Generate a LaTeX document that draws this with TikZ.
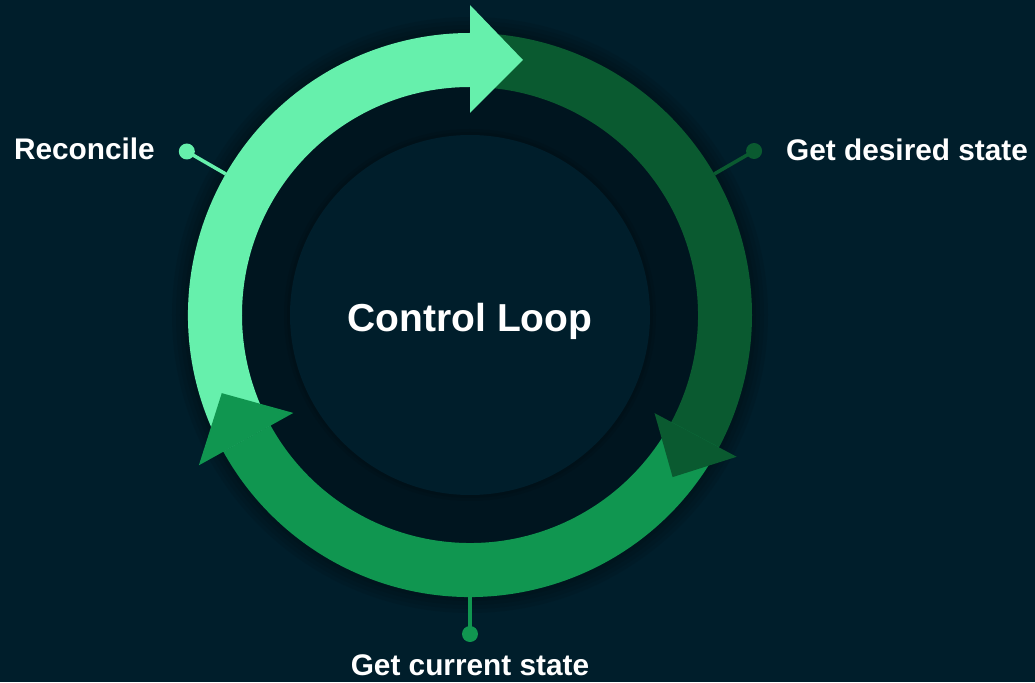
\documentclass[tikz,border=0pt]{standalone}
\usepackage{fontspec}
\setmainfont{Liberation Sans}
\usetikzlibrary{calc}
\definecolor{bg}{HTML}{001E2B}
\definecolor{innerdark}{HTML}{00151F}
\definecolor{lightg}{HTML}{66F0AC}
\definecolor{darkg}{HTML}{0A5A30}
\definecolor{midg}{HTML}{109650}
\tikzset{
  lbl/.style={text=white,font=\fontsize{29.8}{34}\selectfont\bfseries,inner sep=0pt},
  dotnode/.style={circle,inner sep=0pt,minimum size=16pt},
  leader/.style={line width=3.5pt},
}
\newcommand{\ringbody}[3]{% color, start angle, end angle
  \fill[#1] (#2:282) arc[start angle=#2,end angle=#3,radius=282] -- (#3:228) arc[start angle=#3,end angle=#2,radius=228] -- cycle;}
\newcommand{\ringhead}[5]{% color, base angle, tip length, inner r, outer r
  \fill[#1] (#2:#4) -- (#2:#5) -- ($(#2:255)+(#2-90:#3)$) -- cycle;}
\begin{document}
\begin{tikzpicture}[x=1pt,y=1pt]
\fill[bg] (-470,-367) rectangle (565,315);
\useasboundingbox (-470,-367) rectangle (565,315);
% soft shadow around ring
\foreach \r in {298,294,290,286}{\fill[black,opacity=0.07] (0,0) circle (\r);}
\fill[innerdark] (0,0) circle (228);
\foreach \r in {186,183}{\fill[black,opacity=0.08] (0,0) circle (\r);}
\fill[bg] (0,0) circle (180);
% ring bodies
\ringbody{lightg}{209}{90}
\ringbody{darkg}{90}{-28}
\ringbody{midg}{-28}{-151}
% heads
\ringhead{lightg}{90}{53}{202}{310}
\ringhead{darkg}{-28}{48}{209}{302}
\ringhead{midg}{209}{52}{202}{310}
% centre label
\node[text=white,font=\fontsize{39}{46}\selectfont\bfseries,anchor=base,inner sep=0pt] (title) at (0,-17) {Control Loop};
% leaders
\coordinate (a1) at (150:282);
\node[dotnode,fill=lightg] (d1) at (150:327) {};
\draw[leader,lightg] (a1) -- (d1.center);
\coordinate (a2) at (30:282);
\node[dotnode,fill=darkg] (d2) at (30:328) {};
\draw[leader,darkg] (a2) -- (d2.center);
\coordinate (a3) at (270:282);
\node[dotnode,fill=midg] (d3) at (270:319) {};
\draw[leader,midg] (a3) -- (d3.center);
% labels
\node[lbl,anchor=base east] (l1) at (-315,155) {Reconcile};
\node[lbl,anchor=base west] (l2) at (316,154) {Get desired state};
\node[lbl,anchor=base] (l3) at (0,-360) {Get current state};
\end{tikzpicture}
\end{document}
